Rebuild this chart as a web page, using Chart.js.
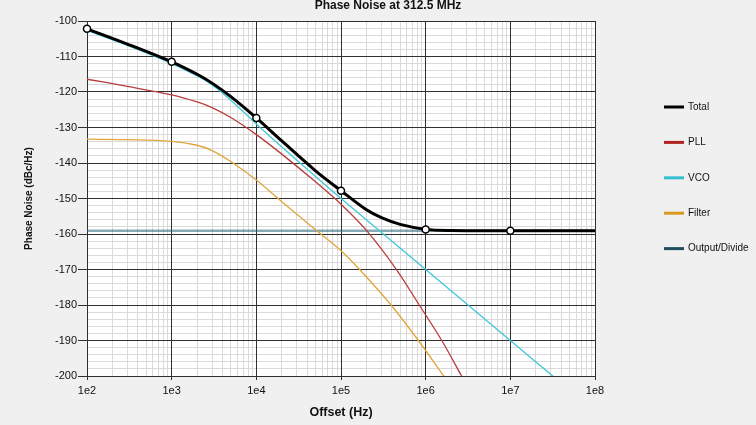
<!DOCTYPE html>
<html>
<head>
<meta charset="utf-8">
<script src="https://cdn.jsdelivr.net/npm/chart.js@4"></script>
<style>
  html, body { margin: 0; padding: 0; background: #f0f0f0; }
</style>
</head>
<body>
<canvas id="phaseChart" width="756" height="425"></canvas>
<script>
// Phase noise plot (dBc/Hz vs offset in Hz)
var chartTitle = 'Phase Noise at 312.5 MHz';
var seriesNames = ['Total', 'PLL', 'VCO', 'Filter', 'Output/Divide'];
var legendColors = ['#000000', '#b22222', '#34c0d2', '#d99a1e', '#1f4e5f'];

var totalHz = [1e2, 3e2, 1e3, 2e3, 3e3, 5e3, 1e4, 2e4, 5e4, 1e5, 2e5, 3e5, 5e5, 1e6, 2e6, 1e7, 1e8];
var totalDb = [-102.2, -106.5, -111.5, -115.0, -117.5, -121.3, -127.3, -133.8, -142.2, -147.8, -153.2, -155.4, -157.3, -158.7, -159.0, -159.1, -159.1];

var pllHz = [1e2, 3e2, 1e3, 2e3, 3e3, 5e3, 1e4, 2e4, 5e4, 1e5, 2e5, 4.54e5, 8.4e5, 1.55e6, 2.66e6];
var pllDb = [-116.4, -118.4, -120.8, -122.8, -124.4, -127.2, -132.0, -137.5, -145.3, -151.6, -159.0, -170.1, -180.0, -190.0, -200.0];

var vcoHz = [1e2, 3e2, 1e3, 2e3, 3e3, 5e3, 1e4, 2e4, 5e4, 1e5, 1e6, 1e7, 3.2e7];
var vcoDb = [-102.7, -106.9, -112.0, -115.5, -118.0, -122.3, -129.0, -135.5, -143.8, -150.0, -170.0, -190.0, -200.1];

var filterHz = [1e2, 3e2, 1e3, 2e3, 3e3, 5e3, 1e4, 2e4, 5e4, 1e5, 1.66e5, 3.9e5, 8.2e5, 1.66e6];
var filterDb = [-133.3, -133.4, -133.9, -135.0, -136.5, -139.6, -144.8, -150.9, -158.8, -164.7, -170.0, -180.0, -190.0, -200.2];

var outputHz = [1e2, 1e8];
var outputDb = [-159.1, -159.1];

var xMajorTicks = [1e2, 1e3, 1e4, 1e5, 1e6, 1e7, 1e8];
var xTickLabels = ['1e2', '1e3', '1e4', '1e5', '1e6', '1e7', '1e8'];
var yMin = -200, yMax = -100;

// minor grid: 2..9 in each decade, every 2 dB on y
var xGridValues = [];
for (var d = 2; d < 8; d++) {
  for (var m = 1; m < 10; m++) xGridValues.push(m * Math.pow(10, d));
}
xGridValues.push(1e8);
var yGridValues = [];
for (var v = yMin; v <= yMax; v += 2) yGridValues.push(v);
var yMajorValues = yGridValues.filter(v => v % 10 === 0);

function pts(xs, ys) {
  return xs.map((x, i) => ({ x: x, y: ys[i] }));
}

var FONT = '"Liberation Sans", Arial, sans-serif';
var DARK = '#303030';
var LIGHT = '#dadada';

var bgPlugin = {
  id: 'bg',
  beforeDraw: function (chart) {
    var c = chart.ctx, a = chart.chartArea;
    c.save();
    c.fillStyle = '#f0f0f0';
    c.fillRect(0, 0, chart.width, chart.height);
    c.fillStyle = '#ffffff';
    c.fillRect(a.left, a.top, a.right - a.left, a.bottom - a.top);
    c.restore();
  },
  afterDraw: function (chart) {
    var c = chart.ctx;
    c.save();
    // title
    c.fillStyle = '#111';
    c.font = 'bold 12px ' + FONT;
    c.textAlign = 'center';
    c.textBaseline = 'middle';
    c.fillText(chartTitle, 388, 6);
    // legend on the right
    c.font = '10px ' + FONT;
    c.textAlign = 'left';
    chart.data.datasets.forEach(function (ds, i) {
      var y = 107 + i * 35.4;
      c.strokeStyle = legendColors[i];
      c.lineWidth = 3;
      c.beginPath();
      c.moveTo(664, y);
      c.lineTo(684, y);
      c.stroke();
      c.fillStyle = '#111';
      c.fillText(ds.label, 688, y);
    });
    c.restore();
  }
};

var isMajorX = v => xMajorTicks.indexOf(v) >= 0;

var ctx = document.getElementById('phaseChart').getContext('2d');
new Chart(ctx, {
  type: 'line',
  data: {
    datasets: [
      {
        label: seriesNames[0], data: pts(totalHz, totalDb),
        borderColor: '#000', borderWidth: 3, clip: 6,
        pointRadius: c => (isMajorX(c.raw.x) && c.raw.x < 1e8) ? 3.5 : 0,
        pointBackgroundColor: '#fff', pointBorderColor: '#000', pointBorderWidth: 1.5
      },
      { label: seriesNames[1], data: pts(pllHz, pllDb), borderColor: '#b83c3c', borderWidth: 1.3, pointRadius: 0 },
      { label: seriesNames[2], data: pts(vcoHz, vcoDb), borderColor: '#40c8d8', borderWidth: 1.3, pointRadius: 0 },
      { label: seriesNames[3], data: pts(filterHz, filterDb), borderColor: '#e0a63c', borderWidth: 1.3, pointRadius: 0 },
      { label: seriesNames[4], data: pts(outputHz, outputDb), borderColor: 'rgba(40,100,120,0.55)', borderWidth: 2.5, pointRadius: 0 }
    ]
  },
  options: {
    responsive: false,
    animation: false,
    events: [],
    elements: { line: { tension: 0.3 } },
    layout: { padding: { top: 21, right: 161, bottom: 0, left: 0 } },
    plugins: { legend: { display: false }, title: { display: false }, tooltip: { enabled: false } },
    scales: {
      y: {
        type: 'linear', min: yMin, max: yMax,
        afterBuildTicks: s => { s.ticks = yGridValues.map(v => ({ value: v })); },
        afterFit: s => { s.width = 87; },
        ticks: {
          autoSkip: false, padding: 1, color: '#111',
          font: { family: FONT, size: 11 },
          callback: v => (v % 10 === 0 ? String(v) : '')
        },
        grid: {
          z: -2,
          color: c => (c.tick && c.tick.value % 10 === 0) ? DARK : LIGHT,
          tickColor: c => (c.tick && c.tick.value % 10 === 0) ? DARK : 'rgba(0,0,0,0)',
          tickLength: 9
        },
        border: { color: DARK },
        title: {
          display: true, text: 'Phase Noise (dBc/Hz)', color: '#111',
          font: { family: FONT, size: 10, weight: 'bold' },
          padding: { top: 23, bottom: 0 }
        }
      },
      x: {
        type: 'logarithmic', min: 1e2, max: 1e8,
        afterBuildTicks: s => { s.ticks = xGridValues.map(v => ({ value: v })); },
        afterFit: s => { s.height = 49; },
        ticks: {
          autoSkip: false, maxRotation: 0, padding: 4, color: '#111',
          font: { family: FONT, size: 11 },
          callback: v => (isMajorX(v) ? xTickLabels[xMajorTicks.indexOf(v)] : '')
        },
        grid: {
          z: -1,
          color: c => (c.tick && isMajorX(c.tick.value)) ? DARK : LIGHT,
          tickColor: c => (c.tick && isMajorX(c.tick.value)) ? DARK : 'rgba(0,0,0,0)',
          tickLength: 4
        },
        border: { color: DARK },
        title: {
          display: true, text: 'Offset (Hz)', color: '#111',
          font: { family: FONT, size: 12.5, weight: 'bold' },
          padding: { top: 0, bottom: 5 }
        }
      },
      yMajor: {
        type: 'linear', position: 'left', min: yMin, max: yMax,
        afterBuildTicks: s => { s.ticks = yMajorValues.map(v => ({ value: v })); },
        afterFit: s => { s.width = 0; },
        ticks: { display: false },
        grid: { z: -1, color: DARK, drawTicks: false },
        border: { display: false }
      }
    }
  },
  plugins: [bgPlugin]
});
</script>
</body>
</html>
